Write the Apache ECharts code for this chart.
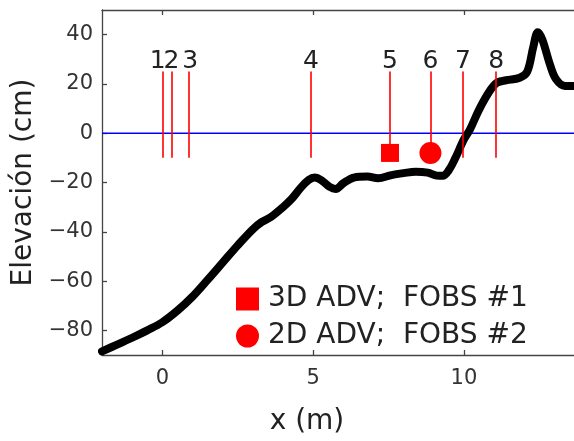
<!DOCTYPE html>
<html>
<head>
<meta charset="utf-8">
<script src="https://cdn.jsdelivr.net/npm/echarts@6/dist/echarts.min.js"></script>
<style>
html,body{margin:0;padding:0;background:#fff;}
#chart{width:574px;height:441px;}
</style>
</head>
<body>
<div id="chart"></div>
<script>
// ---- data ----
const profX = [-2.0, -1.5, -1.0, -0.5, 0.0, 0.5, 1.0, 1.5, 2.0, 2.5, 3.0, 3.3, 3.6, 4.0, 4.3, 4.6, 4.85, 5.05, 5.3, 5.55, 5.75, 6.0, 6.35, 6.8, 7.15, 7.6, 8.0, 8.4, 8.8, 9.1, 9.3, 9.5, 9.7, 10.0, 10.2, 10.5, 10.85, 11.1, 11.4, 11.85, 12.1, 12.3, 12.45, 12.6, 12.85, 13.05, 13.35, 13.7];
const profY = [-88.5, -85.8, -83, -80, -76.7, -72, -66.3, -59.5, -52.5, -45.5, -39, -36, -34, -30, -26.5, -22, -19, -18, -19.3, -21.8, -22.6, -20.3, -18, -17.6, -18.3, -17, -16.2, -15.6, -16, -17.2, -17.3, -15, -10.5, -2.5, 1.5, 9.5, 17, 20.5, 21.5, 22.5, 25, 35, 41, 38, 28, 22, 19.2, 19.2];
const sensorX = [0, 0.32, 0.89, 4.93, 7.55, 8.89, 9.97, 11.07];
const sensorNames = ['1', '2', '3', '4', '5', '6', '7', '8'];
const sensorBottom = -10;
const sensorTop = 25;
const waterLevel = 0;
const adv3dX = [7.55];
const adv3dY = [-8];
const adv2dX = [8.89];
const adv2dY = [-8];
const xTicks = [0, 5, 10];
const yTicks = [-80, -60, -40, -20, 0, 20, 40];
const xRange = [-2, 13.65];
const yRange = [-90, 50];
const name3d = '3D ADV;  FOBS #1';
const name2d = '2D ADV;  FOBS #2';

// ---- build ----
const FONT = 'DejaVu Sans';
const labelShift = [-4.5, -0.5, 1, 0, 0, 0, 0, 0];

const profile = profX.map((x, i) => [x, profY[i]]);
const sensorLines = sensorX.map((x, i) => [
  { coord: [x, sensorBottom], name: sensorNames[i],
    label: { offset: [labelShift[i], 3] } },
  { coord: [x, sensorTop] }
]);

const axisLineStyle = { color: '#444', width: 1.3 };

const option = {
  animation: false,
  backgroundColor: '#fff',
  grid: { left: 102, top: 10, right: 0, bottom: 83, containLabel: false },
  legend: {
    orient: 'vertical',
    left: 231,
    top: 280,
    itemWidth: 23,
    itemHeight: 23,
    itemGap: 9,
    textStyle: { fontFamily: FONT, fontSize: 28, color: '#222', padding: [0, 0, 0, 4] },
    data: [
      { name: name3d, icon: 'rect', itemStyle: { color: '#ff0000', opacity: 1 } },
      { name: name2d, icon: 'circle', itemStyle: { color: '#ff0000', opacity: 1 } }
    ]
  },
  xAxis: [{
    type: 'value',
    min: xRange[0], max: xRange[1],
    position: 'bottom',
    name: 'x (m)',
    nameLocation: 'middle',
    nameGap: 53,
    nameTextStyle: { fontFamily: FONT, fontSize: 28, color: '#222', padding: [0, 62, 0, 0] },
    splitLine: { show: false },
    axisLine: { show: true, onZero: false, lineStyle: axisLineStyle },
    axisTick: { show: true, inside: true, length: 5, customValues: xTicks, lineStyle: axisLineStyle },
    axisLabel: { customValues: xTicks, fontFamily: FONT, fontSize: 21, color: '#333', margin: 13 }
  }, {
    type: 'value',
    min: xRange[0], max: xRange[1],
    position: 'top',
    splitLine: { show: false },
    axisLine: { show: true, onZero: false, lineStyle: axisLineStyle },
    axisTick: { show: true, inside: true, length: 5, customValues: xTicks, lineStyle: axisLineStyle },
    axisLabel: { show: false }
  }],
  yAxis: {
    type: 'value',
    min: yRange[0], max: yRange[1],
    name: 'Elevación (cm)',
    nameLocation: 'middle',
    nameGap: 56,
    nameTextStyle: { fontFamily: FONT, fontSize: 28, color: '#222' },
    splitLine: { show: false },
    axisLine: { show: true, onZero: false, lineStyle: axisLineStyle },
    axisTick: { show: true, inside: true, length: 5, customValues: yTicks, lineStyle: axisLineStyle },
    axisLabel: { customValues: yTicks, fontFamily: FONT, fontSize: 21, color: '#333', margin: 9,
      formatter: v => (v < 0 ? '\u2212' + Math.abs(v) : String(v)) }
  },
  series: [
    {
      type: 'line',
      name: 'nivel',
      data: [[xRange[0], waterLevel], [xRange[1], waterLevel]],
      symbol: 'none',
      lineStyle: { color: '#0000ff', width: 1.5 },
      silent: true,
      z: 1
    },
    {
      type: 'line',
      name: 'perfil',
      data: profile,
      symbol: 'none',
      smooth: 0.35,
      lineStyle: { color: '#000', width: 8, cap: 'round', join: 'round' },
      z: 3,
      markLine: {
        silent: true,
        symbol: ['none', 'none'],
        lineStyle: { color: '#ff0000', width: 1.6, type: 'solid', opacity: 1 },
        label: {
          show: true, position: 'end', formatter: '{b}', distance: 1,
          fontFamily: FONT, fontSize: 25, color: '#222'
        },
        data: sensorLines
      }
    },
    {
      type: 'scatter',
      name: name3d,
      data: adv3dX.map((x, i) => [x, adv3dY[i]]),
      symbol: 'rect',
      symbolSize: 18,
      itemStyle: { color: '#ff0000', opacity: 1 },
      z: 4
    },
    {
      type: 'scatter',
      name: name2d,
      data: adv2dX.map((x, i) => [x, adv2dY[i]]),
      symbol: 'circle',
      symbolSize: 22,
      itemStyle: { color: '#ff0000', opacity: 1 },
      z: 4
    }
  ]
};

const chart = echarts.init(document.getElementById('chart'), null, { renderer: 'canvas' });
chart.setOption(option);
</script>
</body>
</html>
